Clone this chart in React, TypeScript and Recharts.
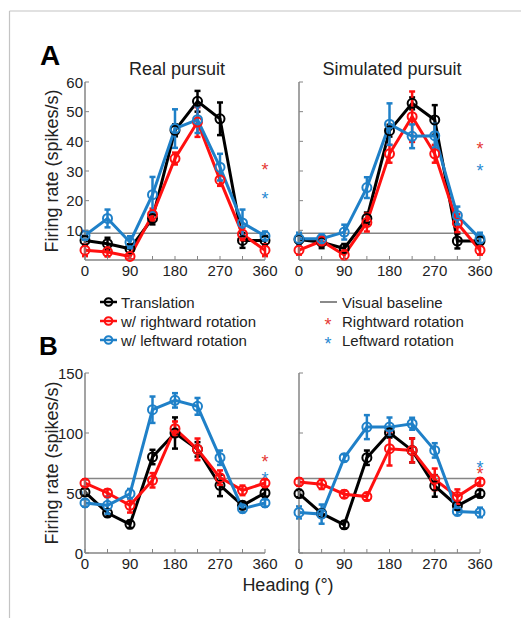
import React from 'react';
import { ComposedChart, Line, XAxis, YAxis, ReferenceLine, ErrorBar, Scatter } from 'recharts';

const headings = [0, 45, 90, 135, 180, 225, 270, 315, 360];
const xTicks = [0, 45, 90, 135, 180, 225, 270, 315, 360];
const yTicksA = [10, 20, 30, 40, 50, 60];
const yTicksB = [0, 50, 100, 150];

// Panel A, real pursuit
const aRealTrans = [6.6, 5.5, 3.8, 14, 43.7, 53.5, 47.6, 6.6, 6.6];
const aRealTransErr = [1.5, 2, 1.5, 2, 2, 3.5, 5.5, 2.5, 1.5];
const aRealRight = [3.3, 2.7, 1.2, 15.3, 34.2, 46.5, 27, 8.7, 3.3];
const aRealRightErr = [2, 1.5, 1, 2, 2, 5, 2, 2, 2];
const aRealLeft = [8.3, 14, 6, 22, 44.3, 47.3, 31.3, 12.5, 8.1];
const aRealLeftErr = [1.5, 3, 2, 6, 6.5, 4.5, 4.5, 4.5, 1.5];
const aRealStars = { right: 31.7, left: 22 };

// Panel A, simulated pursuit
const aSimTrans = [6.9, 6.0, 3.9, 14, 43.6, 52.8, 47.2, 6.4, 6.4];
const aSimTransErr = [1.5, 2, 1.5, 2, 2, 2, 5, 2.5, 1.5];
const aSimRight = [3.3, 6.4, 1.7, 12.6, 35.8, 48.3, 35.8, 12.4, 3.3];
const aSimRightErr = [1.5, 1.5, 1.5, 3, 3, 8.5, 3, 3, 1.5];
const aSimLeft = [7.2, 7.2, 9.4, 24.4, 45.8, 41.7, 41.9, 15, 7.2];
const aSimLeftErr = [2, 1.5, 2.5, 3.5, 7, 4, 4, 3, 2];
const aSimStars = { right: 38.8, left: 31.3 };

// Panel B, real pursuit
const bRealTrans = [50.8, 33.3, 23.9, 80, 100, 86.4, 56.4, 39.7, 50];
const bRealTransErr = [3, 3, 3, 6, 13, 6, 9, 3, 3];
const bRealRight = [58.3, 50, 39.7, 60.6, 103.6, 86.4, 62.8, 52.2, 58.3];
const bRealRightErr = [3, 3, 6, 6, 6, 9, 6, 4, 3];
const bRealLeft = [41.7, 39.7, 49.4, 119.4, 127.2, 122.2, 79.4, 36.9, 41.7];
const bRealLeftErr = [3, 7, 4, 11, 6, 7, 6, 3, 3];
const bRealStars = { right: 79.4, left: 64.7 };

// Panel B, simulated pursuit
const bSimTrans = [49.5, 33, 23.5, 79.4, 100.2, 85.5, 55.9, 39.3, 49.5];
const bSimTransErr = [3, 3, 3, 6, 4, 10, 9, 3, 3];
const bSimRight = [59.2, 57.3, 49, 47, 86.9, 85.5, 61.4, 47, 59.2];
const bSimRightErr = [3, 4, 3, 3, 14, 10, 9, 6, 3];
const bSimLeft = [33.8, 32.4, 79.4, 104.9, 104.9, 107.7, 85.5, 34.6, 33.8];
const bSimLeftErr = [5, 8, 3, 10, 8, 5, 6, 3, 4];
const bSimStars = { right: 69.2, left: 73.9 };

const baselineA = 9;
const baselineB = 62;

const BLACK = '#000000';
const RED = '#ff1010';
const BLUE = '#1f80c8';
const STAR_RED = '#e53935';
const STAR_BLUE = '#2a8ad2';
const AXIS = '#858585';
const FONT = '"Liberation Sans", Arial, sans-serif';

function buildRows(t: number[], te: number[], r: number[], re: number[], l: number[], le: number[]) {
  return headings.map((h, i) => ({
    heading: h,
    trans: t[i], transErr: te[i],
    right: r[i], rightErr: re[i],
    left: l[i], leftErr: le[i],
  }));
}

const XTick = (props: any) => {
  const { x, y, payload } = props;
  const v = payload.value;
  return (
    <g>
      <line x1={x} x2={x} y1={y} y2={y - 4} stroke={AXIS} strokeWidth={1} />
      {v % 90 === 0 && (
        <text x={x} y={y + 15.5} textAnchor="middle" fontSize={15} fontFamily={FONT} fill="#222">
          {v}
        </text>
      )}
    </g>
  );
};

const makeYTick = (show: boolean) => (props: any) => {
  const { x, y, payload } = props;
  return (
    <g>
      <line x1={x} x2={x + 4} y1={y} y2={y} stroke={AXIS} strokeWidth={1} />
      {show && (
        <text x={x - 2} y={y + 5.5} textAnchor="end" fontSize={15} fontFamily={FONT} fill="#222">
          {payload.value}
        </text>
      )}
    </g>
  );
};

const starShape = (color: string) => (props: any) => (
  <text x={props.cx} y={props.cy + 10} textAnchor="middle" fontSize={18} fontFamily={FONT} fill={color}>
    *
  </text>
);

type PanelProps = {
  left: number; top: number; width: number; height: number; yWidth: number;
  rows: any[]; domain: [number, number]; ticks: number[]; showLabels: boolean;
  baseline: number; stars: { right: number; left: number };
};

const Panel = ({ left, top, width, height, yWidth, rows, domain, ticks, showLabels, baseline, stars }: PanelProps) => (
  <div style={{ position: 'absolute', left, top }}>
    <ComposedChart width={width} height={height} data={rows} margin={{ top: 10, right: 15, left: 0, bottom: 0 }}>
      <XAxis
        dataKey="heading" type="number" domain={[0, 360]} ticks={xTicks} interval={0}
        height={27} tickSize={0} tickMargin={0} tickLine={false}
        axisLine={{ stroke: AXIS, strokeWidth: 1.5 }} tick={(p: any) => <XTick {...p} />}
      />
      <YAxis
        type="number" domain={domain} ticks={ticks} interval={0} width={yWidth}
        tickSize={0} tickMargin={0} tickLine={false}
        axisLine={{ stroke: AXIS, strokeWidth: 1.5 }} tick={makeYTick(showLabels)}
      />
      <ReferenceLine y={baseline} stroke={AXIS} strokeWidth={1.5} />
      <Line dataKey="trans" stroke={BLACK} strokeWidth={3} isAnimationActive={false}
        dot={{ r: 4.5, fill: 'none', stroke: BLACK, strokeWidth: 2 }} activeDot={false}>
        <ErrorBar dataKey="transErr" width={3} stroke={BLACK} strokeWidth={2.5} direction="y" />
      </Line>
      <Line dataKey="right" stroke={RED} strokeWidth={3} isAnimationActive={false}
        dot={{ r: 4.5, fill: 'none', stroke: RED, strokeWidth: 2 }} activeDot={false}>
        <ErrorBar dataKey="rightErr" width={3} stroke={RED} strokeWidth={2.5} direction="y" />
      </Line>
      <Line dataKey="left" stroke={BLUE} strokeWidth={3} isAnimationActive={false}
        dot={{ r: 4.5, fill: 'none', stroke: BLUE, strokeWidth: 2 }} activeDot={false}>
        <ErrorBar dataKey="leftErr" width={3} stroke={BLUE} strokeWidth={2.5} direction="y" />
      </Line>
      <Scatter data={[{ heading: 360, v: stars.right }]} dataKey="v" isAnimationActive={false} shape={starShape(STAR_RED)} />
      <Scatter data={[{ heading: 360, v: stars.left }]} dataKey="v" isAnimationActive={false} shape={starShape(STAR_BLUE)} />
    </ComposedChart>
  </div>
);

const legendLeft = [
  { label: 'Translation', color: BLACK },
  { label: 'w/ rightward rotation', color: RED },
  { label: 'w/ leftward rotation', color: BLUE },
];
const legendRight = [
  { label: 'Visual baseline', kind: 'line', color: '#8a8a8a' },
  { label: 'Rightward rotation', kind: 'star', color: STAR_RED },
  { label: 'Leftward rotation', kind: 'star', color: STAR_BLUE },
];
const legendRowsY = [302, 321, 340];

export default function App() {
  return (
    <div style={{ position: 'absolute', left: 0, top: 0, width: 521, height: 618, background: '#fff', fontFamily: FONT }}>
      <svg width={521} height={618} style={{ position: 'absolute', left: 0, top: 0 }}>
        <line x1={9.5} y1={11} x2={9.5} y2={618} stroke="#c4c4c4" strokeWidth={1.2} />
        <line x1={9.5} y1={11} x2={521} y2={11} stroke="#c4c4c4" strokeWidth={1.2} />
        <text x={40} y={65} fontSize={28} fontWeight="bold" fontFamily={FONT} fill="#000">A</text>
        <text x={39} y={355} fontSize={26} fontWeight="bold" fontFamily={FONT} fill="#000">B</text>
        <text x={177} y={74.5} textAnchor="middle" fontSize={18} fontFamily={FONT} fill="#222">Real pursuit</text>
        <text x={392} y={74.5} textAnchor="middle" fontSize={18} fontFamily={FONT} fill="#222">Simulated pursuit</text>
        <text transform="translate(52,171) rotate(-90)" textAnchor="middle" dy="0.35em" fontSize={18} fontFamily={FONT} fill="#222">Firing rate (spikes/s)</text>
        <text transform="translate(52,463) rotate(-90)" textAnchor="middle" dy="0.35em" fontSize={18} fontFamily={FONT} fill="#222">Firing rate (spikes/s)</text>
        <text x={288} y={590.5} textAnchor="middle" fontSize={18} fontFamily={FONT} fill="#222">Heading (°)</text>
        {legendLeft.map((it, i) => (
          <g key={it.label}>
            <line x1={100} x2={117} y1={legendRowsY[i]} y2={legendRowsY[i]} stroke={it.color} strokeWidth={2.5} />
            <circle cx={108.5} cy={legendRowsY[i]} r={3.8} fill="none" stroke={it.color} strokeWidth={2} />
            <text x={121} y={legendRowsY[i] + 5.5} fontSize={15} fontFamily={FONT} fill="#222">{it.label}</text>
          </g>
        ))}
        {legendRight.map((it, i) => (
          <g key={it.label}>
            {it.kind === 'line' ? (
              <line x1={320} x2={337} y1={legendRowsY[i]} y2={legendRowsY[i]} stroke={it.color} strokeWidth={2} />
            ) : (
              <text x={328} y={legendRowsY[i] + 10} textAnchor="middle" fontSize={18} fontFamily={FONT} fill={it.color}>*</text>
            )}
            <text x={342} y={legendRowsY[i] + 5.5} fontSize={15} fontFamily={FONT} fill="#222">{it.label}</text>
          </g>
        ))}
      </svg>
      <Panel left={20} top={72} width={260} height={215} yWidth={65}
        rows={buildRows(aRealTrans, aRealTransErr, aRealRight, aRealRightErr, aRealLeft, aRealLeftErr)}
        domain={[0, 60]} ticks={yTicksA} showLabels baseline={baselineA} stars={aRealStars} />
      <Panel left={280} top={72} width={215} height={215} yWidth={19}
        rows={buildRows(aSimTrans, aSimTransErr, aSimRight, aSimRightErr, aSimLeft, aSimLeftErr)}
        domain={[0, 60]} ticks={yTicksA} showLabels={false} baseline={baselineA} stars={aSimStars} />
      <Panel left={20} top={363} width={260} height={217} yWidth={65}
        rows={buildRows(bRealTrans, bRealTransErr, bRealRight, bRealRightErr, bRealLeft, bRealLeftErr)}
        domain={[0, 150]} ticks={yTicksB} showLabels baseline={baselineB} stars={bRealStars} />
      <Panel left={280} top={363} width={215} height={217} yWidth={19}
        rows={buildRows(bSimTrans, bSimTransErr, bSimRight, bSimRightErr, bSimLeft, bSimLeftErr)}
        domain={[0, 150]} ticks={yTicksB} showLabels={false} baseline={baselineB} stars={bSimStars} />
    </div>
  );
}
